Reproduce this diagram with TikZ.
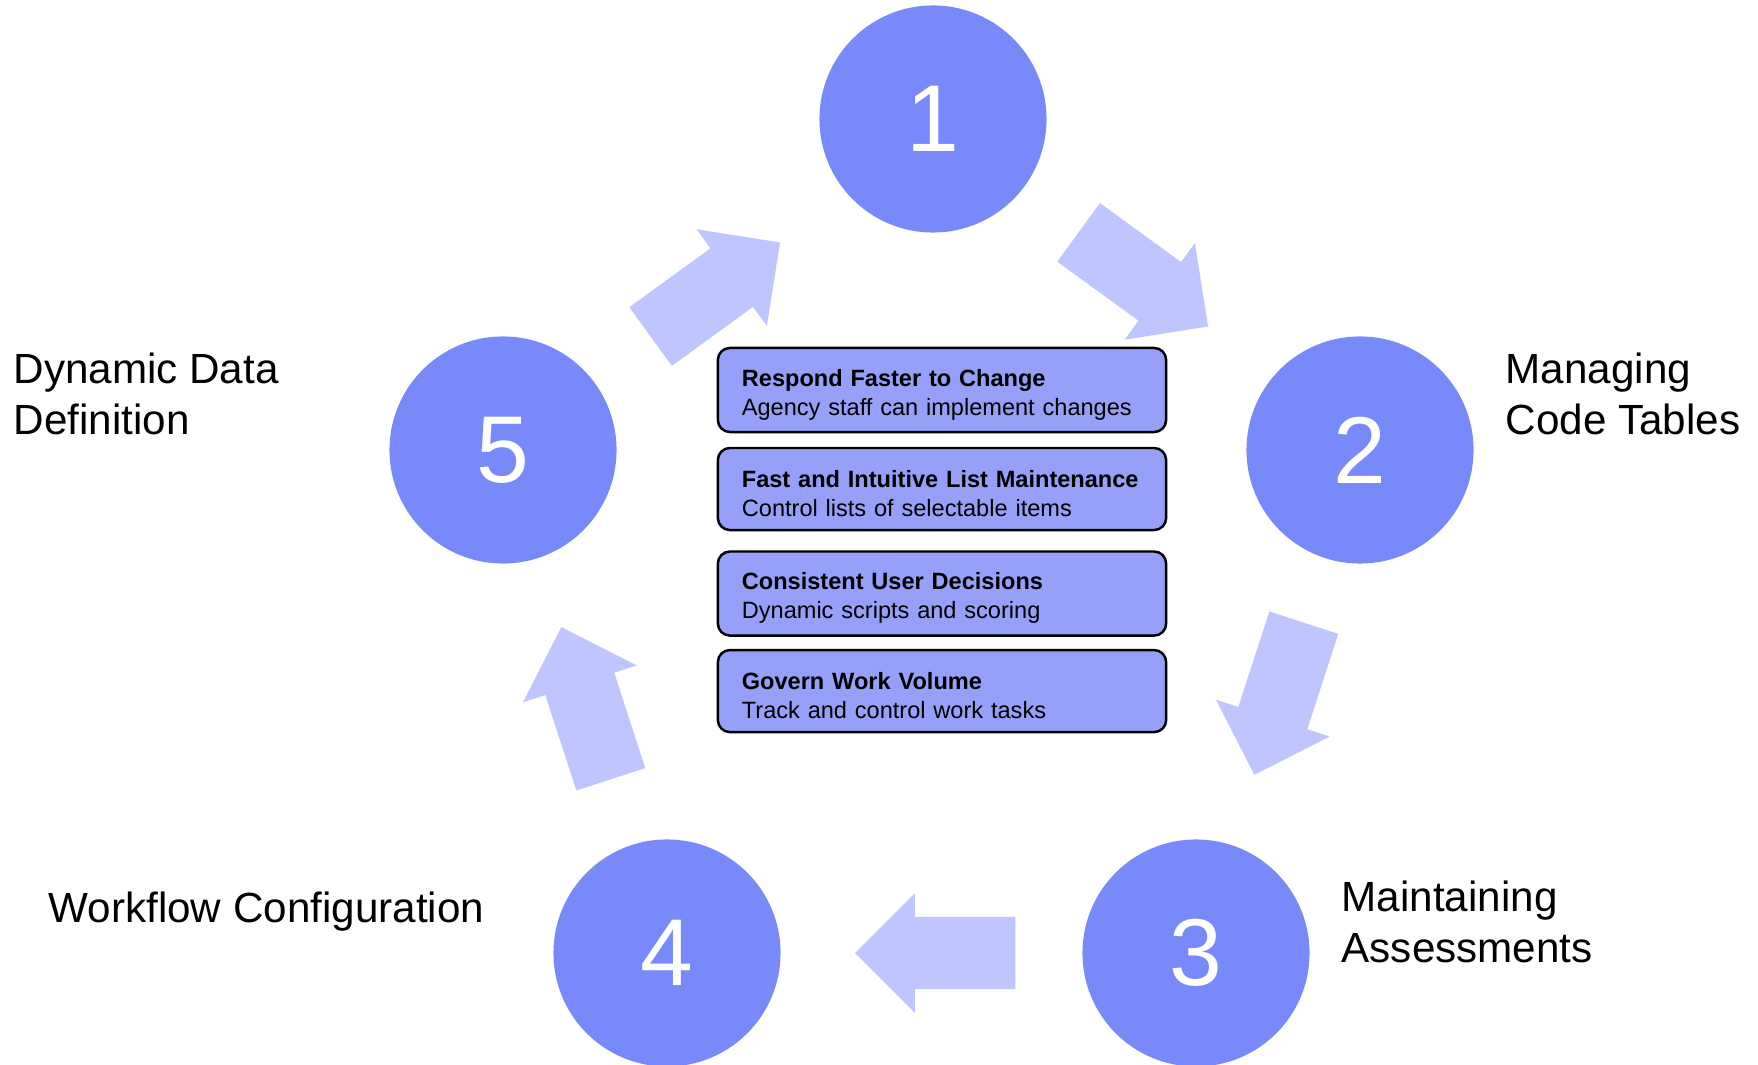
\documentclass[tikz,border=0pt]{standalone}
\usepackage{fontspec}
\setmainfont{Liberation Sans}
\usetikzlibrary{shapes,arrows,positioning}
\definecolor{stepblue}{RGB}{120,138,250}
\definecolor{arrowblue}{RGB}{191,197,255}
\definecolor{boxblue}{RGB}{150,160,249}

\begin{document}
\begin{tikzpicture}[x=0.01cm, y=-0.01cm]
  \tikzstyle{stepcircle}=[circle, fill=stepblue, minimum size=2.27cm, inner sep=0pt, text=white, font=\fontsize{27}{27}\selectfont]
  \tikzstyle{cyclearrow}=[single arrow, fill=arrowblue, minimum height=1.6cm, inner xsep=0pt, inner ysep=0.355cm, single arrow head extend=0.235cm, anchor=tail]
  \tikzstyle{benefit}=[rectangle, draw, line width=0.7pt, rounded corners=0.12cm, fill=boxblue, minimum width=4.48cm, minimum height=0.82cm, text width=4.0cm, inner xsep=0.24cm, align=left, font=\fontsize{6.7}{8.25}\selectfont]
  \tikzstyle{steplabel}=[inner sep=0pt, align=left, font=\fontsize{12}{14.5}\selectfont]

  \useasboundingbox (0,0) rectangle (1758,1065);

  % cycle arrows (placed by their tails)
  \node[cyclearrow, rotate=-36] (a12) at (1078,232) {};
  \node[cyclearrow, rotate=-108] (a23) at (1304,622) {};
  \node[cyclearrow, rotate=180] (a34) at (1016,953) {};
  \node[cyclearrow, rotate=108] (a45) at (611,780) {};
  \node[cyclearrow, rotate=36] (a51) at (650,337) {};

  % steps
  \node[stepcircle] (s1) at (933,119) {1};
  \node[stepcircle] (s2) at (1360,450) {2};
  \node[stepcircle] (s3) at (1196,953) {3};
  \node[stepcircle] (s4) at (667,953) {4};
  \node[stepcircle] (s5) at (503,450) {5};

  \node[steplabel, anchor=base west] (l5) at (13,435) {Dynamic Data\\Definition};
  \node[steplabel, anchor=base west] (l2) at (1505,435) {Managing\\Code Tables};
  \node[steplabel, anchor=base west] (l3) at (1341,962) {Maintaining\\Assessments};
  \node[steplabel, anchor=base west] (l4) at (48,923) {Workflow Configuration};

  % benefits
  \node[benefit] (b1) at (942,390) {\rule{0pt}{7.6pt}\textbf{Respond Faster to Change}\\Agency staff can implement changes};
  \node[benefit, below=0.135cm of b1] (b2) {\rule{0pt}{7.6pt}\textbf{Fast and Intuitive List Maintenance}\\Control lists of selectable items};
  \node[benefit, below=0.19cm of b2] (b3) {\rule{0pt}{7.6pt}\textbf{Consistent User Decisions}\\Dynamic scripts and scoring};
  \node[benefit, below=0.12cm of b3] (b4) {\rule{0pt}{7.6pt}\textbf{Govern Work Volume}\\Track and control work tasks};
\end{tikzpicture}
\end{document}
